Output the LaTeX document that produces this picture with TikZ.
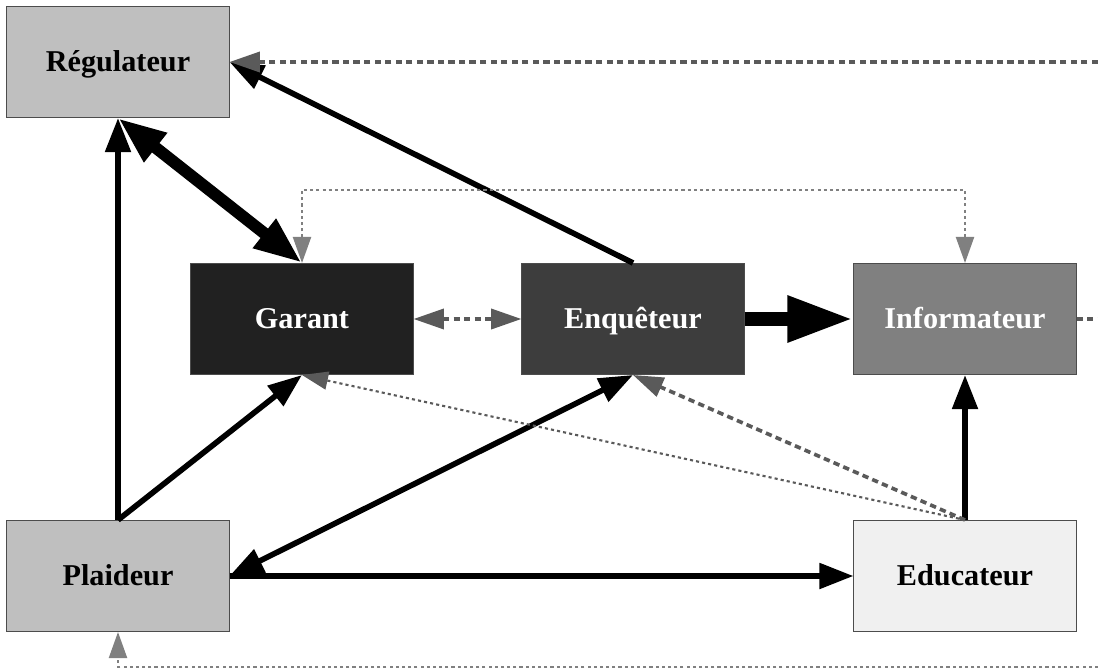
\documentclass[tikz,border=0pt]{standalone}
\usepackage{fontspec}
\setmainfont{Liberation Serif}
\usetikzlibrary{arrows.meta}
\definecolor{lightbox}{HTML}{BFBFBF}
\definecolor{darkbox}{HTML}{212121}
\definecolor{midbox}{HTML}{3D3D3D}
\definecolor{greybox}{HTML}{808080}
\definecolor{palebox}{HTML}{F0F0F0}
\definecolor{linkgrey}{HTML}{5A5A5A}
\definecolor{hintgrey}{HTML}{808080}

\begin{document}
\begin{tikzpicture}[x=0.025cm,y=-0.025cm]
		\tikzstyle{box}=[draw=black!70, line width=.7pt, minimum width=5.55cm, minimum height=2.775cm, inner sep=0pt, text height=18pt, text depth=4pt, font=\fontsize{21.5}{25}\selectfont\bfseries]
		\tikzstyle{flow}=[draw, line width=4pt, black, -{Triangle[length=0.85cm,width=0.62cm]}]
		\tikzstyle{link}=[draw, line width=2.6pt, linkgrey, dash pattern=on 4.5pt off 3pt, -{Triangle[length=0.76cm,width=0.5cm]}]
		\tikzstyle{hint}=[draw, line width=1.5pt, hintgrey, dash pattern=on 2.2pt off 2.2pt, -{Triangle[length=0.65cm,width=0.45cm]}]
		\useasboundingbox (0,0) rectangle (1098,670);

		\node[box, fill=lightbox, text=black] (reg) at (118,62) {Régulateur};
		\node[box, fill=darkbox, text=white] (gar) at (302,319) {Garant};
		\node[box, fill=midbox, text=white] (enq) at (633,319) {Enquêteur};
		\node[box, fill=greybox, text=white] (inf) at (965,319) {Informateur};
		\node[box, fill=lightbox, text=black] (plai) at (118,576) {Plaideur};
		\node[box, fill=palebox, text=black] (edu) at (965,576) {Educateur};

		\coordinate (topend) at (1098,62);
		\coordinate (infend) at (1098,319);
		\coordinate (botend) at (1098,667);

		% solid flows
		\draw[flow] (enq.north) -- (reg.east);
		\draw[flow] (plai.north) -- (reg.south);
		\draw[flow, line width=8.5pt, {Triangle[length=1.2cm,width=0.85cm]}-{Triangle[length=1.2cm,width=0.85cm]}] (reg.south) -- (gar.north);
		\draw[flow, line width=10.5pt, -{Triangle[length=1.65cm,width=1.07cm]}] (enq.east) -- (inf.west);
		\draw[flow] (plai.north) -- (gar.south);
		\draw[flow, {Triangle[length=0.85cm,width=0.62cm]}-{Triangle[length=0.85cm,width=0.62cm]}] (plai.east) -- (enq.south);
		\draw[flow] (plai.east) -- (edu.west);
		\draw[flow] (edu.north) -- (inf.south);

		% grey links
		\draw[link] (topend) -- (reg.east);
		\draw[link, {Triangle[length=0.76cm,width=0.5cm]}-{Triangle[length=0.76cm,width=0.5cm]}] (gar.east) -- (enq.west);
		\draw[link, -] (inf.east) -- (infend);
		\draw[link] (edu.north) -- (enq.south);
		\draw[hint, linkgrey] (edu.north) -- (gar.south);
		\draw[hint, {Triangle[length=0.65cm,width=0.45cm]}-{Triangle[length=0.65cm,width=0.45cm]}] (gar.north) -- ++(0,-73) -| (inf.north);
		\draw[hint] (botend) -| (plai.south);
	\end{tikzpicture}
\end{document}
